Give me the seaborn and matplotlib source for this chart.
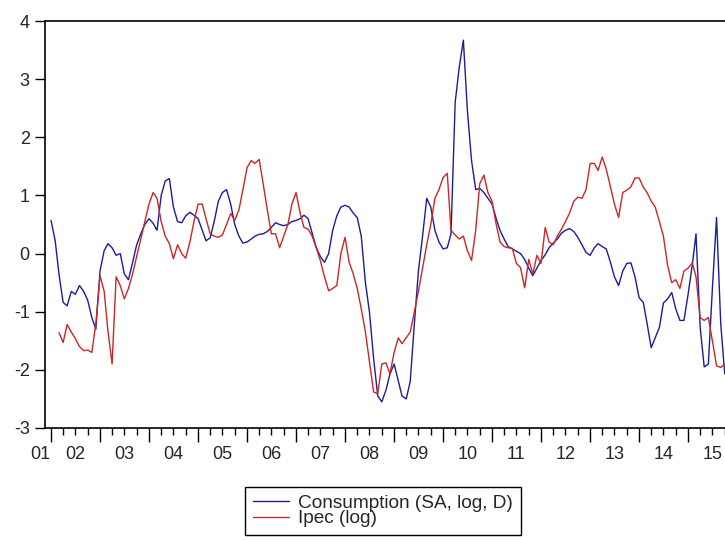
import matplotlib
matplotlib.use("Agg")
import matplotlib.pyplot as plt
import matplotlib.dates as mdates
import matplotlib.transforms as mtransforms
import pandas as pd
import seaborn as sns

# -----------------------------
# Data (monthly)
# -----------------------------
consumption = [
    0.57, 0.22, -0.35, -0.84, -0.9, -0.65, -0.7, -0.55, -0.65, -0.8, -1.1, -1.3,      # 2002
    -0.3, 0.05, 0.17, 0.1, -0.03, 0.0, -0.35, -0.45, -0.15, 0.15, 0.34, 0.5,          # 2003
    0.6, 0.52, 0.4, 1.0, 1.25, 1.29, 0.8, 0.55, 0.53, 0.65, 0.71, 0.66,               # 2004
    0.6, 0.4, 0.22, 0.27, 0.55, 0.9, 1.05, 1.1, 0.85, 0.5, 0.3, 0.18,                 # 2005
    0.2, 0.25, 0.3, 0.33, 0.34, 0.38, 0.45, 0.53, 0.5, 0.48, 0.5, 0.55,               # 2006
    0.57, 0.6, 0.66, 0.6, 0.35, 0.1, -0.05, -0.15, 0.0, 0.4, 0.65, 0.8,               # 2007
    0.83, 0.8, 0.7, 0.62, 0.3, -0.5, -1.0, -1.8, -2.45, -2.55, -2.35, -2.07,          # 2008
    -1.9, -2.19, -2.45, -2.5, -2.2, -1.2, -0.3, 0.3, 0.95, 0.8, 0.4, 0.2,             # 2009
    0.08, 0.1, 0.34, 2.6, 3.2, 3.67, 2.46, 1.6, 1.1, 1.12, 1.05, 0.95,                # 2010
    0.85, 0.6, 0.4, 0.25, 0.12, 0.08, 0.04, 0.0, -0.1, -0.25, -0.38, -0.25,           # 2011
    -0.12, -0.02, 0.1, 0.18, 0.25, 0.35, 0.4, 0.43, 0.38, 0.28, 0.15, 0.02,           # 2012
    -0.03, 0.1, 0.17, 0.12, 0.08, -0.15, -0.4, -0.55, -0.3, -0.17, -0.16, -0.4,       # 2013
    -0.76, -0.84, -1.2, -1.62, -1.45, -1.27, -0.85, -0.78, -0.67, -0.95, -1.15, -1.15,  # 2014
    -0.7, -0.2, 0.34, -1.27, -1.95, -1.9, -0.6, 0.62, -1.2, -2.07,                    # 2015
]

ipec = [
    -1.36, -1.53, -1.22, -1.35, -1.46, -1.6, -1.67, -1.66, -1.7, -1.2,                # 2002 (from Mar)
    -0.38, -0.65, -1.33, -1.9, -0.4, -0.55, -0.78, -0.6, -0.35, -0.05, 0.25, 0.55,    # 2003
    0.85, 1.05, 0.95, 0.55, 0.3, 0.17, -0.09, 0.15, 0.0, -0.08, 0.2, 0.55,            # 2004
    0.85, 0.85, 0.6, 0.34, 0.3, 0.28, 0.32, 0.5, 0.69, 0.57, 0.75, 1.1,               # 2005
    1.48, 1.6, 1.55, 1.62, 1.2, 0.75, 0.34, 0.34, 0.1, 0.3, 0.5, 0.85,                # 2006
    1.05, 0.69, 0.45, 0.42, 0.3, 0.1, -0.12, -0.4, -0.64, -0.6, -0.55, 0.0,           # 2007
    0.28, -0.15, -0.34, -0.6, -0.95, -1.35, -1.85, -2.38, -2.41, -1.9, -1.88, -2.07,  # 2008
    -1.7, -1.45, -1.55, -1.45, -1.35, -1.0, -0.65, -0.25, 0.15, 0.5, 0.95, 1.1,       # 2009
    1.31, 1.38, 0.4, 0.32, 0.25, 0.3, 0.05, -0.12, 0.4, 1.2, 1.35, 1.05,              # 2010
    0.9, 0.5, 0.2, 0.12, 0.1, 0.09, -0.17, -0.24, -0.59, -0.1, -0.35, -0.03,          # 2011
    -0.17, 0.45, 0.2, 0.15, 0.3, 0.42, 0.55, 0.7, 0.9, 0.97, 0.95, 1.1,               # 2012
    1.55, 1.55, 1.43, 1.66, 1.45, 1.15, 0.85, 0.62, 1.05, 1.09, 1.15, 1.3,            # 2013
    1.3, 1.14, 1.05, 0.9, 0.8, 0.55, 0.3, -0.2, -0.5, -0.45, -0.6, -0.3,              # 2014
    -0.25, -0.16, -0.4, -1.1, -1.15, -1.1, -1.5, -1.93, -1.96, -1.9,                  # 2015
]

year_labels = ["01", "02", "03", "04", "05", "06", "07", "08",
               "09", "10", "11", "12", "13", "14", "15"]
label_dates = ["2001-10-13"] + [f"20{y}-07-01" for y in year_labels[1:]]

cons_dates = pd.date_range("2002-01-01", periods=len(consumption), freq="MS")
ipec_dates = pd.date_range("2002-03-01", periods=len(ipec), freq="MS")

BLUE = "#1c1c9c"
RED = "#cc2626"

# -----------------------------
# Plot
# -----------------------------
sns.set_style("white")
plt.rcParams["font.family"] = ["Liberation Sans", "DejaVu Sans"]
plt.rcParams["axes.unicode_minus"] = False

fig = plt.figure(figsize=(7.25, 5.4), dpi=100)
ax = fig.add_axes([45 / 725, 1 - 428 / 540, 680 / 725, 407 / 540])

sns.lineplot(x=cons_dates, y=consumption, ax=ax, color=BLUE, linewidth=1.0,
             label="Consumption (SA, log, D)", legend=False)
sns.lineplot(x=ipec_dates, y=ipec, ax=ax, color=RED, linewidth=1.0,
             label="Ipec (log)", legend=False)

ax.set_xlim(pd.Timestamp("2001-11-17"), pd.Timestamp("2015-10-03"))
ax.set_ylim(-3, 4)
ax.set_yticks(range(-3, 5))
ax.set_xlabel("")
ax.set_ylabel("")

ax.xaxis.set_major_locator(mdates.YearLocator())
ax.xaxis.set_minor_locator(mdates.MonthLocator(bymonth=[4, 7, 10]))
ax.tick_params(axis="x", which="major", direction="out", length=10, width=1,
               color="black", labelbottom=False, bottom=True)
ax.tick_params(axis="x", which="minor", direction="out", length=5, width=1,
               color="black", bottom=True)
ax.tick_params(axis="y", direction="out", length=7, width=1, color="black",
               pad=4, labelsize=13, left=True)

for side in ["left", "bottom", "top"]:
    ax.spines[side].set_color("black")
    ax.spines[side].set_linewidth(1.2)
ax.spines["right"].set_visible(False)

# year labels sit in the middle of each year
trans = mtransforms.blended_transform_factory(ax.transData, ax.transAxes)
for lbl, d in zip(year_labels, label_dates):
    ax.text(pd.Timestamp(d), -0.066, lbl, transform=trans, ha="center",
            va="center", fontsize=13, clip_on=False)

handles, labels = ax.get_legend_handles_labels()
leg = fig.legend(handles, labels, loc="upper left",
                 bbox_to_anchor=(245 / 725, 1 - 487 / 540),
                 bbox_transform=fig.transFigure, frameon=True, fancybox=False,
                 edgecolor="black", framealpha=1, fontsize=13.7,
                 handlelength=1.9, handletextpad=0.5, borderpad=0.4,
                 labelspacing=-0.1, borderaxespad=0)
leg.get_frame().set_linewidth(1.0)

fig.savefig("out.png", dpi=100)
